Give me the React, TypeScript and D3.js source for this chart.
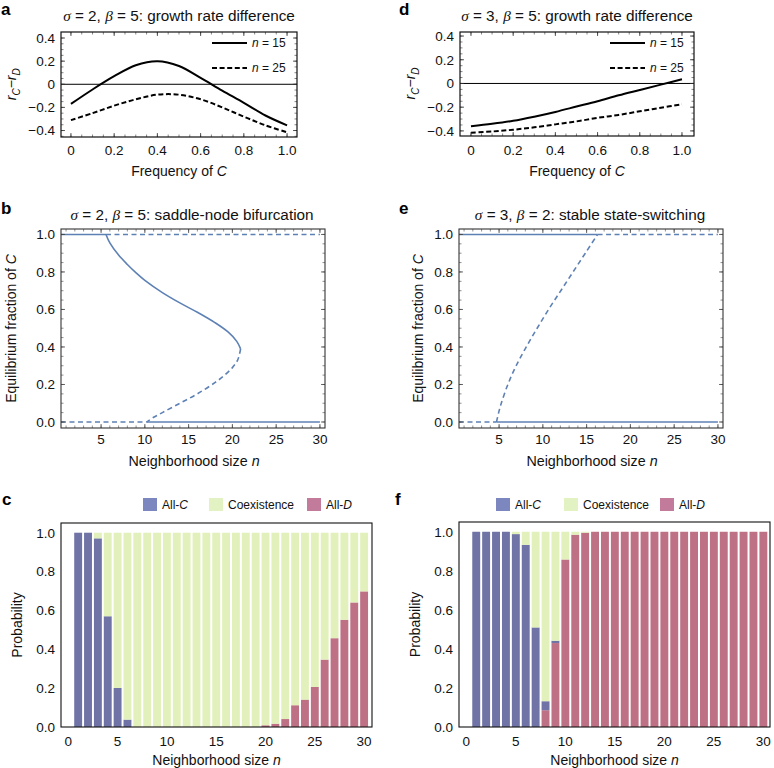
import React from 'react';
import * as d3 from 'd3';

const FONT = '"Liberation Sans", Arial, Helvetica, sans-serif';
const SERIF = '"Liberation Serif", "Times New Roman", serif';

// ---------- Data ----------
const freqGrid = [0, 0.1, 0.2, 0.3, 0.4, 0.5, 0.6, 0.7, 0.8, 0.9, 1.0];
const aN15 = [-0.17, -0.045, 0.07, 0.165, 0.2, 0.158, 0.055, -0.055, -0.16, -0.27, -0.355];
const aN25 = [-0.31, -0.25, -0.185, -0.13, -0.09, -0.09, -0.13, -0.2, -0.28, -0.355, -0.415];
const dN15 = [-0.36, -0.34, -0.315, -0.28, -0.24, -0.195, -0.15, -0.1, -0.055, -0.01, 0.035];
const dN25 = [-0.415, -0.405, -0.39, -0.37, -0.345, -0.32, -0.29, -0.265, -0.235, -0.205, -0.175];
const rTicks = [-0.4, -0.2, 0, 0.2, 0.4];
const rTickLabels = ['\u22120.4', '\u22120.2', '0', '0.2', '0.4'];
const freqTicks = [0, 0.2, 0.4, 0.6, 0.8, 1.0];
const freqTickLabels = ['0', '0.2', '0.4', '0.6', '0.8', '1.0'];

// panel b: saddle-node
const bTopSwitch = 5.56;
const bBottomSwitch = 10.2;
const bStableN = [5.56, 6, 7, 8, 9, 10, 12, 14, 16, 18, 19.5, 20.5, 20.94];
const bStableC = [1.0, 0.955, 0.89, 0.84, 0.795, 0.755, 0.69, 0.635, 0.585, 0.53, 0.48, 0.43, 0.39];
const bUnstableN = [20.94, 20.6, 20, 19, 18, 16, 14, 12, 11, 10.2];
const bUnstableC = [0.39, 0.33, 0.29, 0.245, 0.21, 0.15, 0.1, 0.05, 0.025, 0];

// panel e: state switching
const eTopSwitch = 16.25;
const eBottomSwitch = 4.7;
const eUnstableN = [4.7, 4.95, 5.25, 6.0, 6.95, 8.1, 9.35, 10.65, 12.05, 13.45, 14.85, 16.25];
const eUnstableC = [0, 0.05, 0.1, 0.2, 0.3, 0.4, 0.5, 0.6, 0.7, 0.8, 0.9, 1.0];

const eqTicks = [0, 0.2, 0.4, 0.6, 0.8, 1.0];
const eqTickLabels = ['0.0', '0.2', '0.4', '0.6', '0.8', '1.0'];
const nTicks = [5, 10, 15, 20, 25, 30];
const nTickLabels = ['5', '10', '15', '20', '25', '30'];
const nBarTicks = [0, 5, 10, 15, 20, 25, 30];
const nBarTickLabels = ['0', '5', '10', '15', '20', '25', '30'];

// bar panels
const nValues = d3.range(1, 31);
const cAllC = [1, 1, 0.971, 0.57, 0.201, 0.038, 0, 0, 0, 0, 0, 0, 0, 0, 0, 0, 0, 0, 0, 0, 0, 0, 0, 0, 0, 0, 0, 0, 0, 0];
const cAllD = [0, 0, 0, 0, 0, 0, 0, 0, 0, 0, 0, 0, 0, 0, 0, 0, 0, 0, 0, 0.009, 0.017, 0.041, 0.112, 0.141, 0.206, 0.347, 0.457, 0.552, 0.641, 0.698];
const fAllC = [1, 1, 1, 1, 0.988, 0.933, 0.51, 0.046, 0.012, 0, 0, 0, 0, 0, 0, 0, 0, 0, 0, 0, 0, 0, 0, 0, 0, 0, 0, 0, 0, 0];
const fAllD = [0, 0, 0, 0, 0, 0, 0, 0.086, 0.43, 0.858, 0.985, 0.995, 1, 1, 1, 1, 1, 1, 1, 1, 1, 1, 1, 1, 1, 1, 1, 1, 1, 1];
const probTicks = [0, 0.2, 0.4, 0.6, 0.8, 1.0];
const probTickLabels = ['0.0', '0.2', '0.4', '0.6', '0.8', '1.0'];
const outcomeNames = ['All-', 'Coexistence', 'All-'];

const BLUE_LINE = '#5e81b5';
const BAR_BLUE = '#6f73a5';
const BAR_GREEN = '#e2f1bb';
const BAR_RED = '#be7085';
const LEG_BLUE = '#7d87bf';
const LEG_GREEN = '#e3f2c2';
const LEG_RED = '#c27b9b';

type Box = { x0: number; x1: number; y0: number; y1: number };

function FrameTicks({ box, xs, ys, xMajor, xMinor, yMajor, yMinor, color }: any) {
  const out: any[] = [];
  const M = 4, m = 2.5;
  xMinor.forEach((v: number, i: number) => {
    const px = xs(v);
    if (px < box.x0 + 0.5 || px > box.x1 - 0.5) return;
    out.push(<line key={'xm' + i} x1={px} x2={px} y1={box.y1} y2={box.y1 - m} stroke={color} strokeWidth={0.6} />);
    out.push(<line key={'xmt' + i} x1={px} x2={px} y1={box.y0} y2={box.y0 + m} stroke={color} strokeWidth={0.6} />);
  });
  xMajor.forEach((v: number, i: number) => {
    const px = xs(v);
    out.push(<line key={'xM' + i} x1={px} x2={px} y1={box.y1} y2={box.y1 - M} stroke={color} strokeWidth={0.8} />);
    out.push(<line key={'xMt' + i} x1={px} x2={px} y1={box.y0} y2={box.y0 + M} stroke={color} strokeWidth={0.8} />);
  });
  yMinor.forEach((v: number, i: number) => {
    const py = ys(v);
    if (py < box.y0 + 0.5 || py > box.y1 - 0.5) return;
    out.push(<line key={'ym' + i} y1={py} y2={py} x1={box.x0} x2={box.x0 + m} stroke={color} strokeWidth={0.6} />);
    out.push(<line key={'ymr' + i} y1={py} y2={py} x1={box.x1} x2={box.x1 - m} stroke={color} strokeWidth={0.6} />);
  });
  yMajor.forEach((v: number, i: number) => {
    const py = ys(v);
    out.push(<line key={'yM' + i} y1={py} y2={py} x1={box.x0} x2={box.x0 + M} stroke={color} strokeWidth={0.8} />);
    out.push(<line key={'yMr' + i} y1={py} y2={py} x1={box.x1} x2={box.x1 - M} stroke={color} strokeWidth={0.8} />);
  });
  return <g>{out}</g>;
}

function TickLabels({ xs, ys, xTicks, xLabels, yTicks, yLabels, xBase, yRight }: any) {
  return (
    <g fontFamily={FONT} fontSize={13.5} fill="#111">
      {xTicks.map((v: number, i: number) => (
        <text key={'x' + i} x={xs(v)} y={xBase} textAnchor="middle">{xLabels[i]}</text>
      ))}
      {yTicks.map((v: number, i: number) => (
        <text key={'y' + i} x={yRight} y={ys(v) + 4.8} textAnchor="end">{yLabels[i]}</text>
      ))}
    </g>
  );
}

function Title({ x, y, sigma, beta, text }: any) {
  return (
    <text x={x} y={y} textAnchor="middle" fontFamily={FONT} fontSize={15.3} fill="#111">
      <tspan fontFamily={SERIF} fontStyle="italic">σ</tspan>
      <tspan>{` = ${sigma}, `}</tspan>
      <tspan fontFamily={SERIF} fontStyle="italic">β</tspan>
      <tspan>{` = ${beta}: ${text}`}</tspan>
    </text>
  );
}

function Letter({ x, y, ch }: any) {
  return <text x={x} y={y} fontFamily={FONT} fontSize={17} fontWeight="bold" fill="#000">{ch}</text>;
}

function GrowthPanel({ box, xDom, yDom, n15, n25, letter, letterX, sigma, beta, legX }: any) {
  const xs = d3.scaleLinear().domain(xDom).range([box.x0, box.x1]);
  const ys = d3.scaleLinear().domain(yDom).range([box.y1, box.y0]);
  const line = d3.line<number>().x((_, i) => xs(freqGrid[i])).y((d) => ys(d)).curve(d3.curveCatmullRom.alpha(0.5));
  const cx = (box.x0 + box.x1) / 2;
  const yMid = ys(0);
  return (
    <g>
      <Letter x={letterX} y={15} ch={letter} />
      <Title x={cx} y={21} sigma={sigma} beta={beta} text="growth rate difference" />
      <line x1={box.x0} x2={box.x1} y1={ys(0)} y2={ys(0)} stroke="#000" strokeWidth={1} />
      <path d={line(n15) || ''} fill="none" stroke="#000" strokeWidth={2} />
      <path d={line(n25) || ''} fill="none" stroke="#000" strokeWidth={2} strokeDasharray="5,2.6" />
      <FrameTicks box={box} xs={xs} ys={ys} xMajor={freqTicks} xMinor={d3.range(0, 1.0001, 0.05)} yMajor={rTicks} yMinor={d3.range(-0.45, 0.4501, 0.05)} color="#333" />
      <rect x={box.x0} y={box.y0} width={box.x1 - box.x0} height={box.y1 - box.y0} fill="none" stroke="#111" strokeWidth={1.2} />
      <TickLabels xs={xs} ys={ys} xTicks={freqTicks} xLabels={freqTickLabels} yTicks={rTicks} yLabels={rTickLabels} xBase={155} yRight={box.x0 - 6} />
      <text x={cx} y={176} textAnchor="middle" fontFamily={FONT} fontSize={14} fill="#111">
        Frequency of <tspan fontStyle="italic">C</tspan>
      </text>
      <text transform={`translate(${box.x0 - 45},${yMid}) rotate(-90)`} textAnchor="middle" fontFamily={FONT} fontSize={14} fill="#111">
        <tspan fontStyle="italic">r</tspan>
        <tspan fontStyle="italic" fontSize={10} dy={4}>C</tspan>
        <tspan dy={-4}>{'\u2212'}</tspan>
        <tspan fontStyle="italic">r</tspan>
        <tspan fontStyle="italic" fontSize={10} dy={4}>D</tspan>
      </text>
      <line x1={legX} x2={legX + 35} y1={43} y2={43} stroke="#000" strokeWidth={2} />
      <line x1={legX} x2={legX + 35} y1={68} y2={68} stroke="#000" strokeWidth={2} strokeDasharray="5,2.6" />
      <text x={legX + 40} y={47} fontFamily={FONT} fontSize={12} fill="#111"><tspan fontStyle="italic">n</tspan> = 15</text>
      <text x={legX + 40} y={72} fontFamily={FONT} fontSize={12} fill="#111"><tspan fontStyle="italic">n</tspan> = 25</text>
    </g>
  );
}

function BifPanel({ box, letter, letterX, sigma, beta, text, topSwitch, bottomSwitch, solidN, solidC, dashN, dashC, yTitleX }: any) {
  const xDom = [0.42, 30.58];
  const xs = d3.scaleLinear().domain(xDom).range([box.x0, box.x1]);
  const ys = d3.scaleLinear().domain([-0.032, 1.029]).range([box.y1, box.y0]);
  const mk = (ns: number[]) => d3.line<number>().x((_, i) => xs(ns[i])).y((d) => ys(d)).curve(d3.curveCatmullRom.alpha(0.5));
  const cx = (box.x0 + box.x1) / 2;
  const dash = '5,3.5';
  const sw = 1.6;
  return (
    <g>
      <Letter x={letterX} y={214} ch={letter} />
      <Title x={cx - 1} y={220} sigma={sigma} beta={beta} text={text} />
      <line x1={xs(xDom[0])} x2={xs(topSwitch)} y1={ys(1)} y2={ys(1)} stroke={BLUE_LINE} strokeWidth={sw} />
      <line x1={xs(topSwitch)} x2={xs(30)} y1={ys(1)} y2={ys(1)} stroke={BLUE_LINE} strokeWidth={sw} strokeDasharray={dash} />
      <line x1={xs(xDom[0])} x2={xs(bottomSwitch)} y1={ys(0)} y2={ys(0)} stroke={BLUE_LINE} strokeWidth={sw} strokeDasharray={dash} />
      <line x1={xs(bottomSwitch)} x2={xs(30)} y1={ys(0)} y2={ys(0)} stroke={BLUE_LINE} strokeWidth={sw} />
      {solidN && <path d={mk(solidN)(solidC) || ''} fill="none" stroke={BLUE_LINE} strokeWidth={sw} />}
      {dashN && <path d={mk(dashN)(dashC) || ''} fill="none" stroke={BLUE_LINE} strokeWidth={sw} strokeDasharray={dash} />}
      <FrameTicks box={box} xs={xs} ys={ys} xMajor={nTicks} xMinor={d3.range(1, 31, 1)} yMajor={eqTicks} yMinor={d3.range(0, 1.0001, 0.05)} color="#444" />
      <rect x={box.x0} y={box.y0} width={box.x1 - box.x0} height={box.y1 - box.y0} fill="none" stroke="#333" strokeWidth={1.1} />
      <TickLabels xs={xs} ys={ys} xTicks={nTicks} xLabels={nTickLabels} yTicks={eqTicks} yLabels={eqTickLabels} xBase={444} yRight={box.x0 - 6} />
      <text x={cx + 1} y={466} textAnchor="middle" fontFamily={FONT} fontSize={14.3} fill="#111">
        Neighborhood size <tspan fontStyle="italic">n</tspan>
      </text>
      <text transform={`translate(${yTitleX},${(box.y0 + box.y1) / 2}) rotate(-90)`} textAnchor="middle" fontFamily={FONT} fontSize={14} fill="#111">
        Equilibrium fraction of <tspan fontStyle="italic">C</tspan>
      </text>
    </g>
  );
}

function BarPanel({ box, xDom, letter, letterX, letterY, allC, allD, legX }: any) {
  const xs = d3.scaleLinear().domain(xDom).range([box.x0, box.x1]);
  const ys = d3.scaleLinear().domain([0, 1.05]).range([box.y1, box.y0]);
  const bw = (xs(1) - xs(0)) * 0.8;
  const cx = (box.x0 + box.x1) / 2;
  const rows = nValues.map((n, i) => ({ n, D: allD[i], C: allC[i], X: 1 - allD[i] - allC[i] }));
  const stack = d3.stack<any>().keys(['D', 'C', 'X'])(rows);
  const colors: any = { D: BAR_RED, C: BAR_BLUE, X: BAR_GREEN };
  const legItems = [
    { c: LEG_BLUE, name: outcomeNames[0], it: 'C', dx: 0 },
    { c: LEG_GREEN, name: outcomeNames[1], it: '', dx: legX[1] },
    { c: LEG_RED, name: outcomeNames[2], it: 'D', dx: legX[2] },
  ];
  return (
    <g>
      <Letter x={letterX} y={letterY} ch={letter} />
      {stack.map((layer: any) => (
        <g key={layer.key} fill={colors[layer.key]}>
          {layer.map((s: any, i: number) => {
            const h = ys(s[0]) - ys(s[1]);
            if (h <= 0.05) return null;
            return <rect key={i} x={xs(s.data.n) - bw / 2} y={ys(s[1])} width={bw} height={h} />;
          })}
        </g>
      ))}
      <rect x={box.x0} y={box.y0} width={box.x1 - box.x0} height={box.y1 - box.y0} fill="none" stroke="#111" strokeWidth={1.1} />
      <TickLabels xs={xs} ys={ys} xTicks={nBarTicks} xLabels={nBarTickLabels} yTicks={probTicks} yLabels={probTickLabels} xBase={746} yRight={box.x0 - 6} />
      <text x={cx} y={765} textAnchor="middle" fontFamily={FONT} fontSize={14} fill="#111">
        Neighborhood size <tspan fontStyle="italic">n</tspan>
      </text>
      <text transform={`translate(${box.x0 - 39},${(box.y0 + box.y1) / 2}) rotate(-90)`} textAnchor="middle" fontFamily={FONT} fontSize={14} fill="#111">
        Probability
      </text>
      {legItems.map((l, i) => (
        <g key={i} transform={`translate(${legX[0] + l.dx},498)`}>
          <rect x={0} y={0} width={14} height={13} fill={l.c} />
          <text x={19} y={11} fontFamily={FONT} fontSize={12} fill="#111">
            {l.name}
            {l.it && <tspan fontStyle="italic">{l.it}</tspan>}
          </text>
        </g>
      ))}
    </g>
  );
}

export default function App() {
  const A: Box = { x0: 61, x1: 297, y0: 32, y1: 137 };
  const D: Box = { x0: 460, x1: 694, y0: 32, y1: 136 };
  const B: Box = { x0: 61, x1: 325, y0: 229, y1: 428 };
  const E: Box = { x0: 459, x1: 723, y0: 229, y1: 428 };
  const C: Box = { x0: 61, x1: 372, y0: 523, y1: 727 };
  const F: Box = { x0: 459, x1: 770, y0: 522, y1: 727 };
  return (
    <svg width={774} height={768} style={{ position: 'absolute', left: 0, top: 0, background: '#fff' }}>
      <rect width={774} height={768} fill="#fff" />
      <GrowthPanel box={A} xDom={[-0.046, 1.046]} yDom={[-0.456, 0.452]} n15={aN15} n25={aN25} letter="a" letterX={1} sigma={2} beta={5} legX={212} />
      <GrowthPanel box={D} xDom={[-0.052, 1.057]} yDom={[-0.443, 0.434]} n15={dN15} n25={dN25} letter="d" letterX={399} sigma={3} beta={5} legX={610} />
      <BifPanel box={B} letter="b" letterX={1} sigma={2} beta={5} text="saddle-node bifurcation" topSwitch={bTopSwitch} bottomSwitch={bBottomSwitch} solidN={bStableN} solidC={bStableC} dashN={bUnstableN} dashC={bUnstableC} yTitleX={16} />
      <BifPanel box={E} letter="e" letterX={399} sigma={3} beta={2} text="stable state-switching" topSwitch={eTopSwitch} bottomSwitch={eBottomSwitch} solidN={null} solidC={null} dashN={eUnstableN} dashC={eUnstableC} yTitleX={423} />
      <BarPanel box={C} xDom={[-0.74, 30.8]} letter="c" letterX={2} letterY={505} allC={cAllC} allD={cAllD} legX={[143, 66, 164]} />
      <BarPanel box={F} xDom={[-0.74, 30.67]} letter="f" letterX={395} letterY={505} allC={fAllC} allD={fAllD} legX={[496, 68, 164]} />
    </svg>
  );
}
